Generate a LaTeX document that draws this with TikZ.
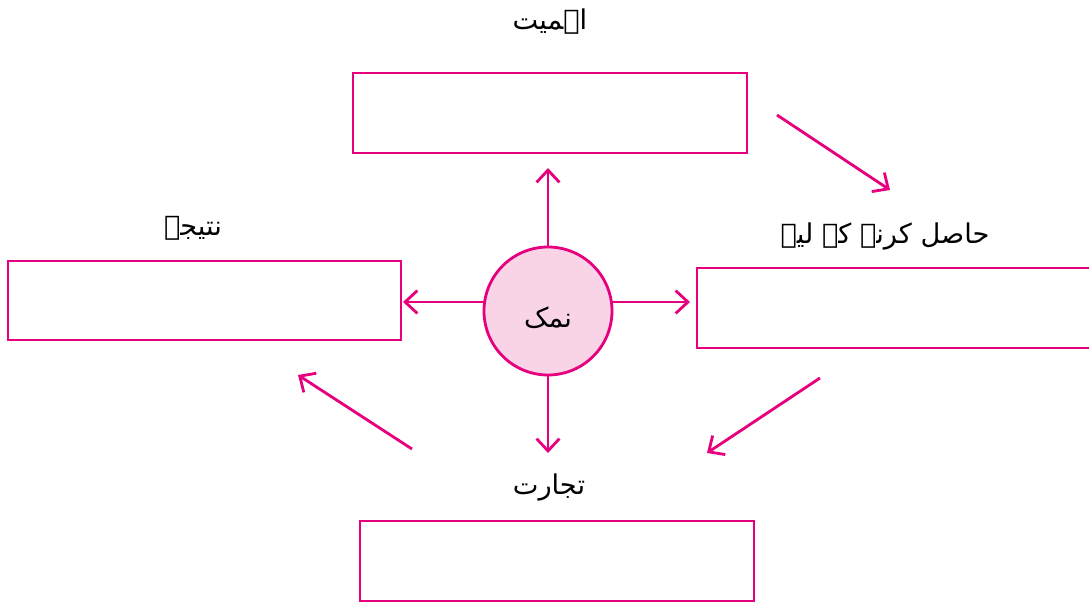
\documentclass[tikz,border=0pt]{standalone}
\usepackage{fontspec}
\usetikzlibrary{arrows.meta}
\TeXXeTstate=1
\newfontfamily\arabicfont[Script=Arabic]{DejaVu Sans}
\definecolor{mag}{HTML}{E6007E}
\definecolor{pinkfill}{HTML}{F9D4E7}
\tikzset{
  box/.style={draw=mag, line width=1.6pt},
  link/.style={draw=mag, line width=1.6pt, -{Straight Barb[length=7pt,width=13pt,line width=1.6pt]}},
  lbl/.style={font=\arabicfont\fontsize{15.5}{18}\selectfont, text=black, inner sep=0pt}
}
\begin{document}
\begin{tikzpicture}[x=0.02cm,y=-0.02cm]
\useasboundingbox (0,0) rectangle (1089,608);
\clip (0,0) rectangle (1089,608);
% boxes
\draw[box] (353,73) rectangle (747,153);
\draw[box] (8,261) rectangle (401,340);
\draw[box] (697,268) rectangle (1100,348);
\draw[box] (360,521) rectangle (754,601);
% centre
\node[circle, draw=mag, fill=pinkfill, line width=1.6pt, minimum size=128*0.02cm, inner sep=0pt] (c) at (548,311) {};
\node[lbl] (cl) at (548,318) {\beginR نمک\endR};
% coordinates
\coordinate (ctop) at (548,247);
\coordinate (cbot) at (548,375);
\coordinate (cleft) at (485,302);
\coordinate (cright) at (611,302);
\coordinate (utip) at (548,168);
\coordinate (dtip) at (548,453);
\coordinate (ltip) at (403,302);
\coordinate (rtip) at (690,302);
\coordinate (a1s) at (777,115);
\coordinate (a1e) at (890,190);
\coordinate (a2s) at (820,378);
\coordinate (a2e) at (707,453);
\coordinate (a3s) at (412,449);
\coordinate (a3e) at (298,375);
\draw[link] (ctop) -- (utip);
\draw[link] (cbot) -- (dtip);
\draw[link] (cleft) -- (ltip);
\draw[link] (cright) -- (rtip);
\draw[link] (a1s) -- (a1e);
\draw[link] (a2s) -- (a2e);
\draw[link] (a3s) -- (a3e);
% labels
\node[lbl] (t1) at (550,22) {\beginR اہمیت\endR};
\node[lbl] (t2) at (193,228) {\beginR نتیجہ\endR};
\node[lbl] (t3) at (885,236) {\beginR حاصل کرنے کے لیے\endR};
\node[lbl] (t4) at (549,487) {\beginR تجارت\endR};
\end{tikzpicture}
\end{document}
